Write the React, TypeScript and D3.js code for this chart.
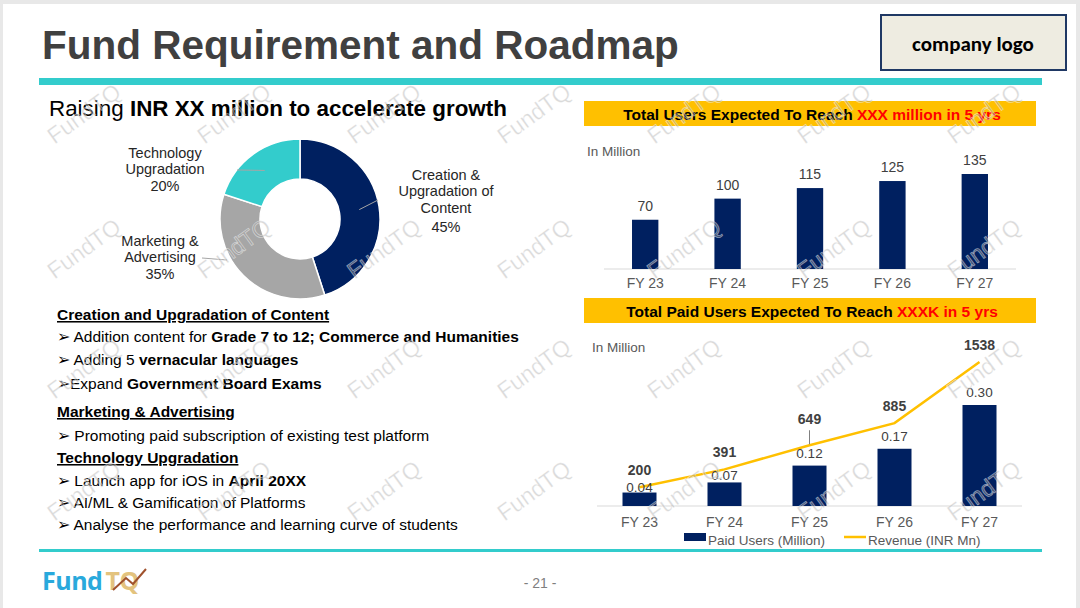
import React from 'react';
import * as d3 from 'd3';

// donut: use of funds
const fundUses = ['Creation & Upgradation of Content', 'Marketing & Advertising', 'Technology Upgradation'];
const fundShares = [45, 35, 20];
const fundColors = ['#002060', '#a6a6a6', '#33cccc'];

// chart 1: total users (million)
const years = ['FY 23', 'FY 24', 'FY 25', 'FY 26', 'FY 27'];
const totalUsers = [70, 100, 115, 125, 135];

// chart 2: paid users (million) + revenue (INR Mn)
const paidUsers = [0.04, 0.07, 0.12, 0.17, 0.3];
const revenue = [200, 391, 649, 885, 1538];

const NAVY = '#002060';
const GOLD = '#ffc000';
const TEAL = '#33cccc';
const FONT = '"Liberation Sans", Arial, sans-serif';

type Seg = { t: string; b?: boolean };
type Line = { kind: 'head' | 'item'; y: number; segs: Seg[] };

const notes: Line[] = [
  { kind: 'head', y: 320, segs: [{ t: 'Creation and Upgradation of Content', b: true }] },
  { kind: 'item', y: 342, segs: [{ t: '\u27A2  Addition content for ' }, { t: 'Grade 7 to 12; Commerce and Humanities', b: true }] },
  { kind: 'item', y: 365, segs: [{ t: '\u27A2  Adding 5 ' }, { t: 'vernacular languages', b: true }] },
  { kind: 'item', y: 389, segs: [{ t: '\u27A2Expand ' }, { t: 'Government Board Exams', b: true }] },
  { kind: 'head', y: 417, segs: [{ t: 'Marketing & Advertising', b: true }] },
  { kind: 'item', y: 441, segs: [{ t: '\u27A2 Promoting paid subscription of existing test platform' }] },
  { kind: 'head', y: 463, segs: [{ t: 'Technology Upgradation', b: true }] },
  { kind: 'item', y: 486, segs: [{ t: '\u27A2 Launch app for iOS in ' }, { t: 'April 20XX', b: true }] },
  { kind: 'item', y: 508, segs: [{ t: '\u27A2 AI/ML & Gamification of Platforms' }] },
  { kind: 'item', y: 530, segs: [{ t: '\u27A2 Analyse the performance and learning curve of students' }] },
];

const Watermarks = () => {
  const cols = d3.range(7).map((i) => 85 + i * 150);
  const rows = [115, 250, 370, 492];
  return (
    <g pointerEvents="none">
      {rows.map((ry) =>
        cols.map((cx) => (
          <text
            key={`${cx}-${ry}`}
            transform={`translate(${cx},${ry}) rotate(-36)`}
            textAnchor="middle"
            dominantBaseline="middle"
            fontFamily={FONT}
            fontSize={23}
            fill="#9a9a9a"
            fillOpacity={0.38}
            stroke="#ffffff"
            strokeOpacity={0.5}
            strokeWidth={0.8}
          >
            FundTQ
          </text>
        ))
      )}
    </g>
  );
};

const Donut = () => {
  const cx = 300;
  const cy = 219;
  const pie = d3.pie<number>().sort(null)(fundShares);
  const arc = d3.arc<d3.PieArcDatum<number>>().innerRadius(40).outerRadius(80);
  const mid = d3.arc<d3.PieArcDatum<number>>().innerRadius(60).outerRadius(60);
  const labels = [
    { x: 446, ys: [180, 196, 213, 232], lines: ['Creation &', 'Upgradation of', 'Content', '45%'], from: [378, 200] },
    { x: 160, ys: [246, 262, 279], lines: ['Marketing &', 'Advertising', '35%'], from: [202, 258] },
    { x: 165, ys: [158, 174, 191], lines: ['Technology', 'Upgradation', '20%'], from: [237, 170] },
  ];
  return (
    <g>
      <g transform={`translate(${cx},${cy})`}>
        {pie.map((p, i) => (
          <path key={fundUses[i]} d={arc(p) || ''} fill={fundColors[i]} stroke="#fff" strokeWidth={1.5} />
        ))}
      </g>
      {pie.map((p, i) => {
        const c = mid.centroid(p);
        const lb = labels[i];
        const tx = i === 1 ? 227 - cx : c[0];
        const ty = i === 1 ? 260 - cy : c[1];
        return (
          <g key={i}>
            <line x1={lb.from[0]} y1={lb.from[1]} x2={cx + tx} y2={cy + ty} stroke="#a6a6a6" strokeWidth={1} />
            {lb.lines.map((t, k) => (
              <text key={k} x={lb.x} y={lb.ys[k]} textAnchor="middle" fontFamily={FONT} fontSize={14.5} fill="#262626">
                {t}
              </text>
            ))}
          </g>
        );
      })}
    </g>
  );
};

const Banner = ({ y, black, red }: { y: number; black: string; red: string }) => (
  <g>
    <rect x={584} y={y} width={452} height={25} fill={GOLD} />
    <text x={812} y={y + 19} textAnchor="middle" fontFamily={FONT} fontSize={15.5} fontWeight="bold" fill="#000">
      {black}
      <tspan fill="#ff0000">{red}</tspan>
    </text>
  </g>
);

const UsersChart = () => {
  const x = d3.scaleBand<string>().domain(years).range([604, 1016]).paddingInner(0.68).paddingOuter(0.34);
  const y = d3.scaleLinear().domain([0, 135]).range([269, 174]);
  return (
    <g fontFamily={FONT}>
      <Banner y={101} black="Total Users Expected To Reach " red="XXX million in 5 yrs" />
      <text x={587} y={156} fontSize={13.5} fill="#595959">In Million</text>
      <line x1={604} x2={1016} y1={y(0)} y2={y(0)} stroke="#d9d9d9" />
      {years.map((yr, i) => (
        <g key={yr}>
          <rect x={x(yr)} y={y(totalUsers[i])} width={x.bandwidth()} height={y(0) - y(totalUsers[i])} fill={NAVY} />
          <text x={(x(yr) as number) + x.bandwidth() / 2} y={y(totalUsers[i]) - 9} textAnchor="middle" fontSize={14} fill="#404040">
            {totalUsers[i]}
          </text>
          <text x={(x(yr) as number) + x.bandwidth() / 2} y={288} textAnchor="middle" fontSize={14} fill="#595959">
            {yr}
          </text>
        </g>
      ))}
    </g>
  );
};

const PaidChart = () => {
  const x = d3.scaleBand<string>().domain(years).range([597, 1022]).paddingInner(0.6).paddingOuter(0.3);
  const yBar = d3.scaleLinear().domain([0, 0.3]).range([506, 405]);
  const yRev = d3.scaleLinear().domain([0, 1538]).range([506, 362]);
  const cxOf = (yr: string) => (x(yr) as number) + x.bandwidth() / 2;
  const line = d3
    .line<number>()
    .x((_, i) => cxOf(years[i]))
    .y((d) => yRev(d));
  // the two small bars have their labels pulled down onto the bar top, clear of the line
  const barLabelGap = [1, 2, 8, 8, 8];
  return (
    <g fontFamily={FONT}>
      <Banner y={298} black="Total Paid Users Expected To Reach " red="XXXK in 5 yrs" />
      <text x={592} y={352} fontSize={13.5} fill="#595959">In Million</text>
      <line x1={597} x2={1022} y1={yBar(0)} y2={yBar(0)} stroke="#d9d9d9" />
      {years.map((yr, i) => (
        <g key={yr}>
          <rect x={x(yr)} y={yBar(paidUsers[i])} width={x.bandwidth()} height={yBar(0) - yBar(paidUsers[i])} fill={NAVY} />
          <text x={cxOf(yr)} y={527} textAnchor="middle" fontSize={14} fill="#595959">
            {yr}
          </text>
        </g>
      ))}
      <path d={line(revenue) || ''} fill="none" stroke={GOLD} strokeWidth={2.5} />
      {years.map((yr, i) => (
        <text key={yr} x={cxOf(yr)} y={yBar(paidUsers[i]) - barLabelGap[i]} textAnchor="middle" fontSize={13.5} fill="#404040">
          {paidUsers[i].toFixed(2)}
        </text>
      ))}
      {years.map((yr, i) => {
        const off = i === 2 ? 21 : 12;
        return (
          <g key={yr}>
            {i === 2 && <line x1={cxOf(yr)} x2={cxOf(yr)} y1={yRev(revenue[i]) - 15} y2={yRev(revenue[i]) - 1} stroke="#808080" />}
            <text x={cxOf(yr)} y={yRev(revenue[i]) - off} textAnchor="middle" fontSize={14} fontWeight="bold" fill="#404040">
              {revenue[i]}
            </text>
          </g>
        );
      })}
      <rect x={684} y={533} width={22} height={8} fill={NAVY} />
      <text x={708} y={545} fontSize={13.5} fill="#595959">Paid Users (Million)</text>
      <line x1={844} x2={866} y1={537} y2={537} stroke={GOLD} strokeWidth={2.5} />
      <text x={868} y={545} fontSize={13.5} fill="#595959">Revenue (INR Mn)</text>
    </g>
  );
};

const Notes = () => (
  <g fontFamily={FONT} fill="#000">
    {notes.map((ln, i) => (
      <text
        key={i}
        x={57}
        y={ln.y}
        fontSize={15.5}
        textDecoration={ln.kind === 'head' ? 'underline' : undefined}
      >
        {ln.segs.map((s, k) => (
          <tspan key={k} fontWeight={s.b ? 'bold' : 'normal'}>
            {s.t}
          </tspan>
        ))}
      </text>
    ))}
  </g>
);

const App = () => {
  return (
    <svg
      width={1080}
      height={608}
      viewBox="0 0 1080 608"
      style={{ position: 'absolute', left: 0, top: 0, display: 'block' }}
    >
      <rect width={1080} height={608} fill="#e8e8e8" />
      <rect x={3} y={4} width={1073} height={604} fill="#ffffff" />

      {/* header */}
      <text x={42} y={59} fontFamily={FONT} fontSize={40.5} fontWeight="bold" fill="#404040">
        Fund Requirement and Roadmap
      </text>
      <rect x={881} y={15} width={185} height={55} fill="#eeece1" stroke="#1f3864" strokeWidth={2} />
      <text x={973} y={51} textAnchor="middle" fontFamily='"Carlito", "Open Sans", sans-serif' fontSize={21} fontWeight="bold" fill="#000">
        company logo
      </text>
      <rect x={39} y={78} width={1003} height={7} fill={TEAL} />

      <text x={49} y={116} fontFamily={FONT} fontSize={22.4} fill="#000">
        Raising <tspan fontWeight="bold">INR XX million to accelerate growth</tspan>
      </text>

      <Donut />
      <Notes />
      <UsersChart />
      <PaidChart />

      {/* footer */}
      <rect x={39} y={549} width={1003} height={3} fill={TEAL} />
      <text x={42} y={590} fontFamily='"Open Sans", sans-serif' fontSize={25} fontWeight="bold" fill="#29a9dc" letterSpacing={-0.5}>
        Fund
        <tspan dx={3} fill="#e3c37e">TQ</tspan>
      </text>
      <polyline points="113,590 126,578 133,584 146,569" fill="none" stroke="#a0522d" strokeWidth={2} />
      <text x={540} y={588} textAnchor="middle" fontFamily={FONT} fontSize={14} fill="#7f7f7f">
        - 21 -
      </text>

      <Watermarks />
    </svg>
  );
};

export default App;
